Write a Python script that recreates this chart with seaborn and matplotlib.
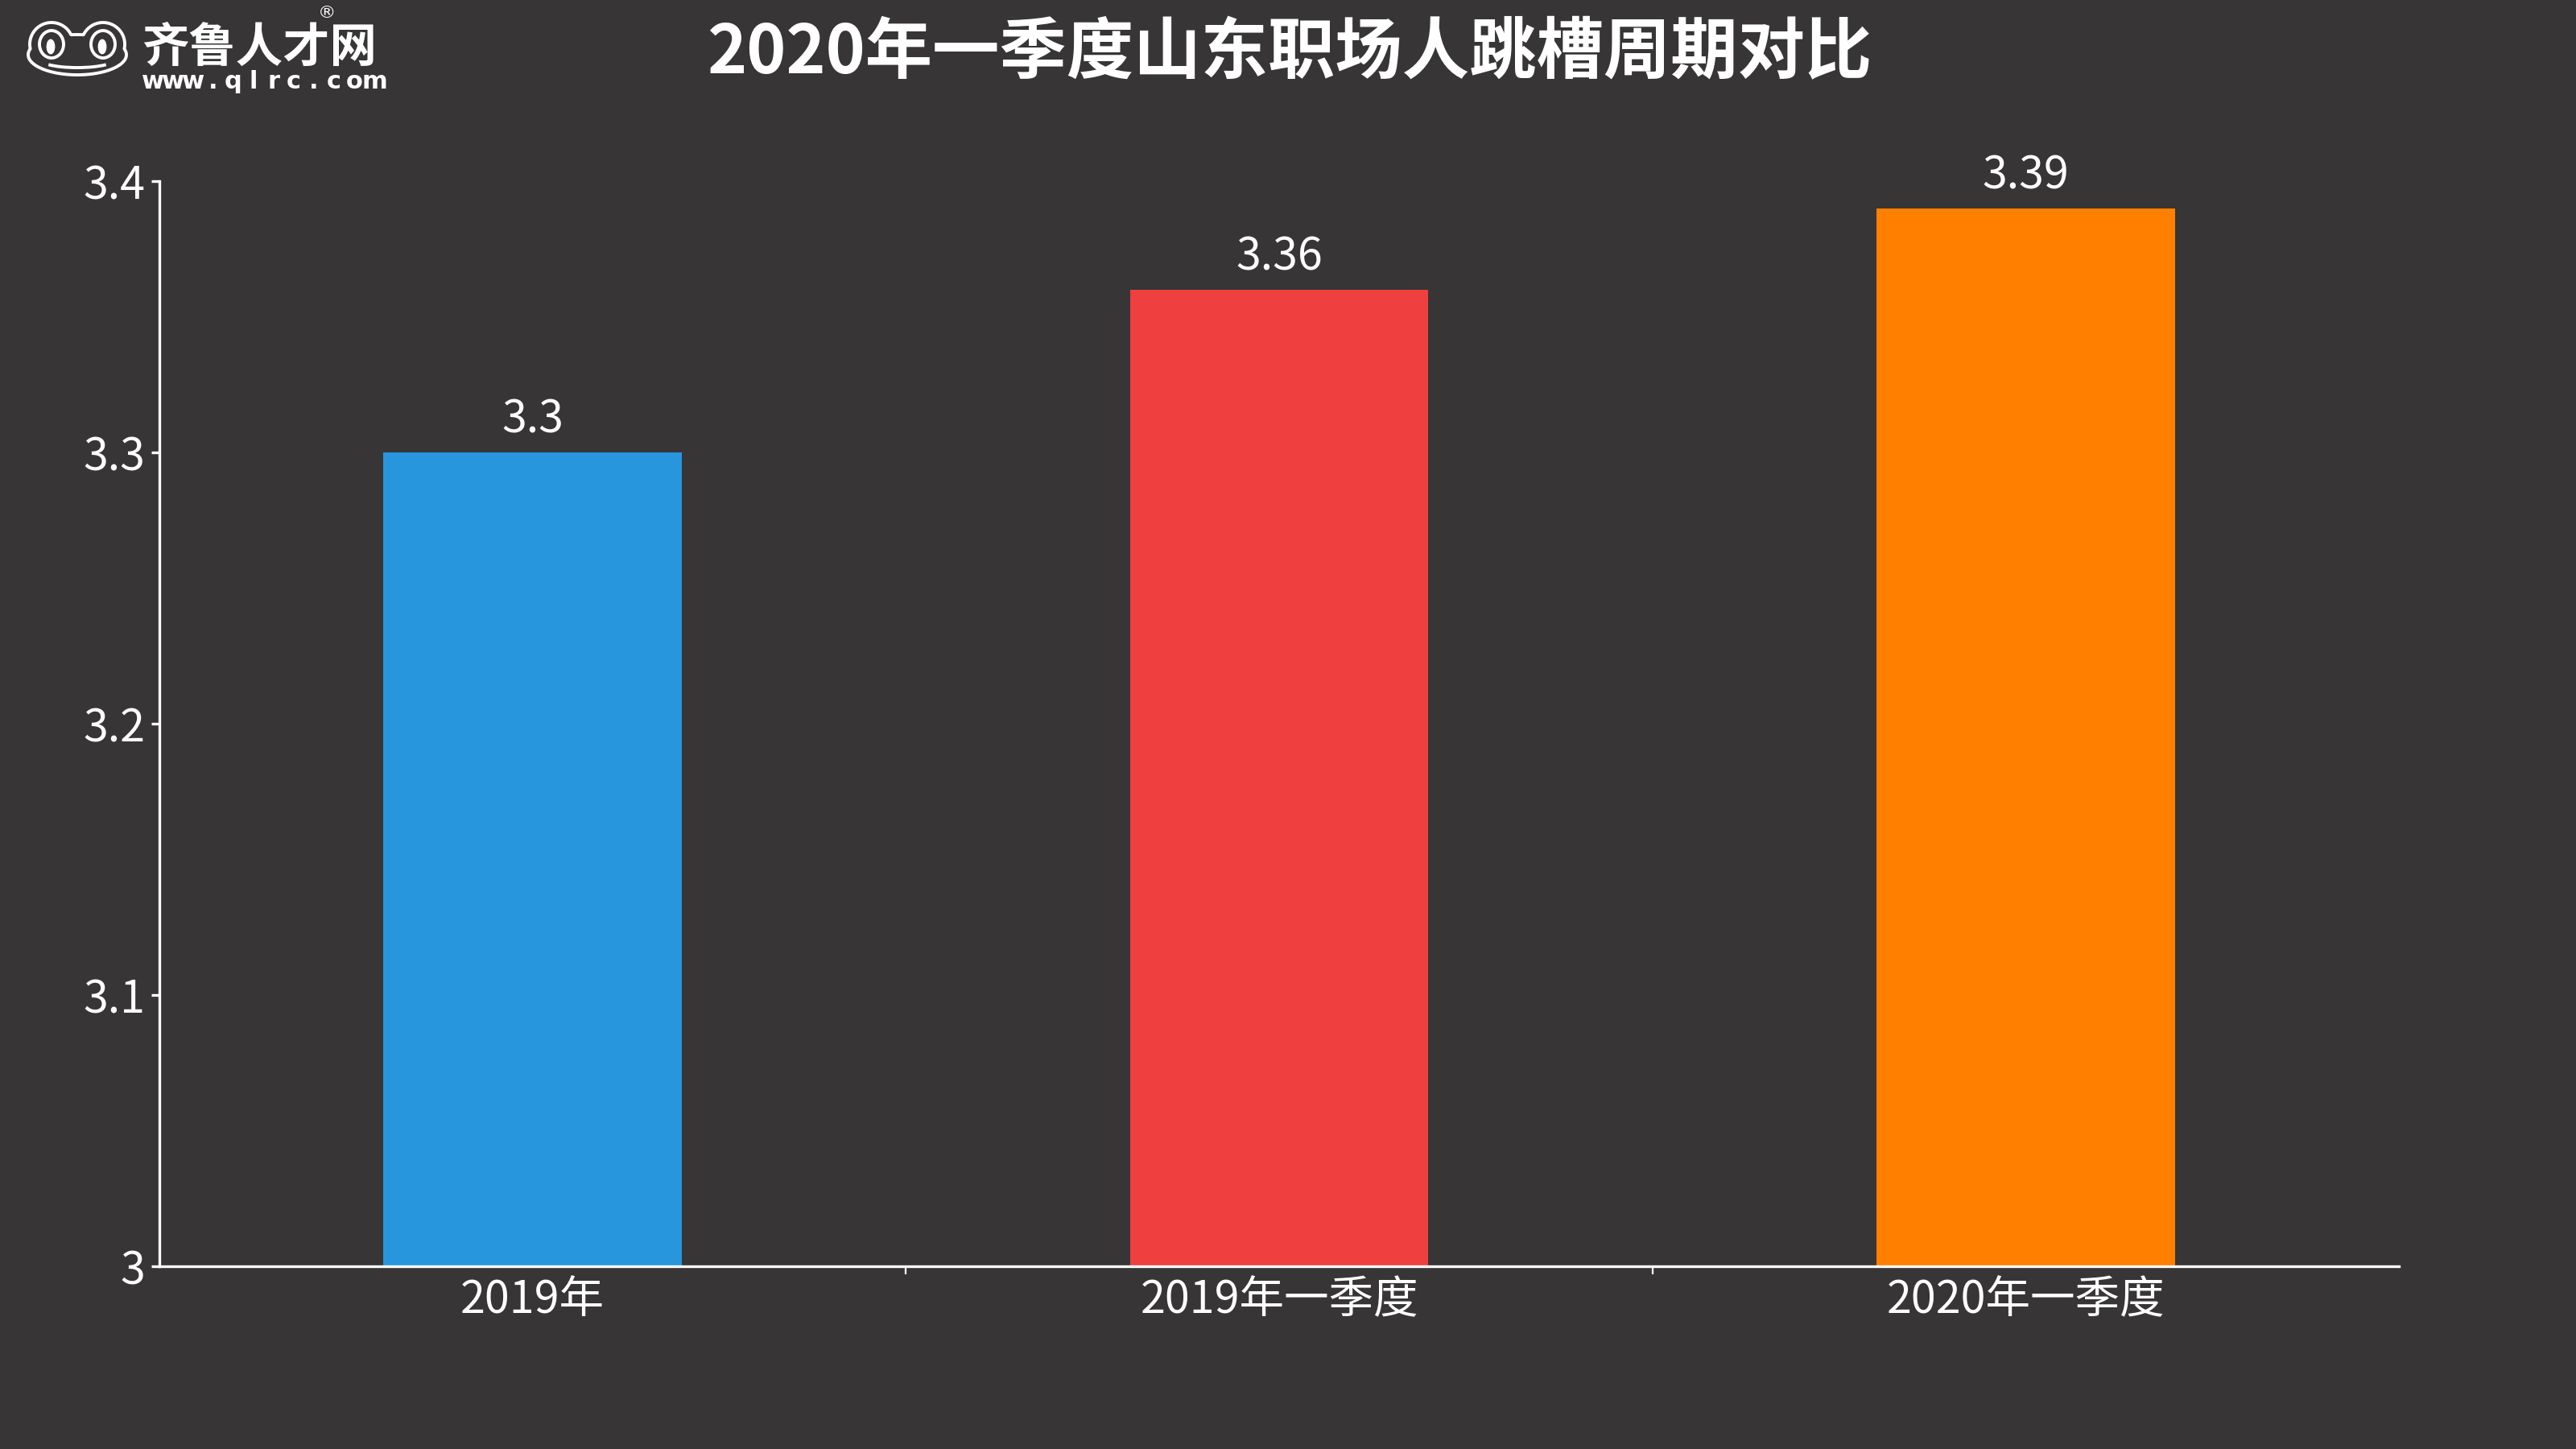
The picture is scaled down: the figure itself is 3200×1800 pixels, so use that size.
import matplotlib
matplotlib.use("Agg")
import matplotlib.pyplot as plt
import seaborn as sns
import pandas as pd
import numpy as np
from matplotlib.patches import Ellipse, Arc
from matplotlib.ticker import FixedLocator, FixedFormatter

# ---- data ----
categories = ["2019年", "2019年一季度", "2020年一季度"]
values = [3.30, 3.36, 3.39]
value_labels = ["3.3", "3.36", "3.39"]
bar_colors = ["#2796DD", "#F03F3F", "#FF8000"]
y_ticks = [3.0, 3.1, 3.2, 3.3, 3.4]
y_tick_labels = ["3", "3.1", "3.2", "3.3", "3.4"]
title = "2020年一季度山东职场人跳槽周期对比"

BG = "#373536"
FG = "#FFFFFF"

sns.set_theme(style="white")
plt.rcParams["font.family"] = ["Noto Sans CJK SC", "DejaVu Sans"]
plt.rcParams["axes.unicode_minus"] = False

fig = plt.figure(figsize=(16, 9), dpi=200)
fig.patch.set_facecolor(BG)

ax = fig.add_axes([198 / 3200, 1 - 1573 / 1800, (2980 - 198) / 3200, (1573 - 225) / 1800])
ax.set_facecolor(BG)

df = pd.DataFrame({"cat": categories, "val": values})
sns.barplot(data=df, x="cat", y="val", hue="cat", palette=bar_colors,
            width=0.4, ax=ax, legend=False, saturation=1, linewidth=0)

ax.set_xlim(-0.5, 2.5)
ax.set_ylim(3.0, 3.4)
ax.set_xlabel("")
ax.set_ylabel("")

for s in ["top", "right"]:
    ax.spines[s].set_visible(False)
for s in ["left", "bottom"]:
    ax.spines[s].set_color(FG)
    ax.spines[s].set_linewidth(1.2)

ax.yaxis.set_major_locator(FixedLocator(y_ticks))
ax.yaxis.set_major_formatter(FixedFormatter(y_tick_labels))
ax.tick_params(axis="y", direction="out", length=3.5, width=1.2, colors=FG,
               labelsize=20, pad=3, left=True)
ax.tick_params(axis="x", which="major", length=0, colors=FG, labelsize=20, pad=5)
ax.set_xticks([0.5, 1.5], minor=True)
ax.tick_params(axis="x", which="minor", direction="out", length=3.5, width=0.8,
               color=FG, bottom=True)

for i, (v, lab) in enumerate(zip(values, value_labels)):
    ax.annotate(lab, (i, v), xytext=(0, 4), textcoords="offset points",
                ha="center", va="bottom", color=FG, fontsize=20)

fig.text(1602 / 3200, 1 - 67 / 1800, title, ha="center", va="center",
         color=FG, fontsize=30, fontweight="bold")

# ---- logo (decoration) ----
lax = fig.add_axes([0, 0, 1, 1])
lax.set_xlim(0, 3200)
lax.set_ylim(1800, 0)
lax.axis("off")
lax.patch.set_alpha(0)
gx, gy = np.meshgrid(np.linspace(20, 180, 400), np.linspace(15, 110, 300))
g1 = np.hypot(gx - 64, gy - 55) / 27
g2 = np.hypot(gx - 128, gy - 55) / 27
g3 = np.hypot((gx - 96) / 61, (gy - 68) / 25)
lax.contour(gx, gy, np.minimum(np.minimum(g1, g2), g3), levels=[1.0],
            colors=FG, linewidths=1.4)
for cx in (64, 128):
    lax.add_patch(Ellipse((cx, 55), 30, 34, fill=False, ec=FG, lw=1.4))
    lax.add_patch(Ellipse((cx - 1, 58), 8, 16, color=FG))
lax.add_patch(Arc((96, 74), 92, 20, theta1=10, theta2=170, ec=FG, lw=1.4))
lax.text(176, 60, "齐鲁人才网", ha="left", va="center", color=FG,
         fontsize=21, fontweight="heavy")
lax.text(406, 16, "®", ha="center", va="center", color=FG, fontsize=8,
         family=["DejaVu Sans"])
for i, ch in enumerate("www.qlrc.com"):
    lax.text(190 + i * 25, 101, ch, ha="center", va="center", color=FG,
             fontsize=11, fontweight="bold", family=["DejaVu Sans"])

fig.savefig("out.png", dpi=200, facecolor=BG)
